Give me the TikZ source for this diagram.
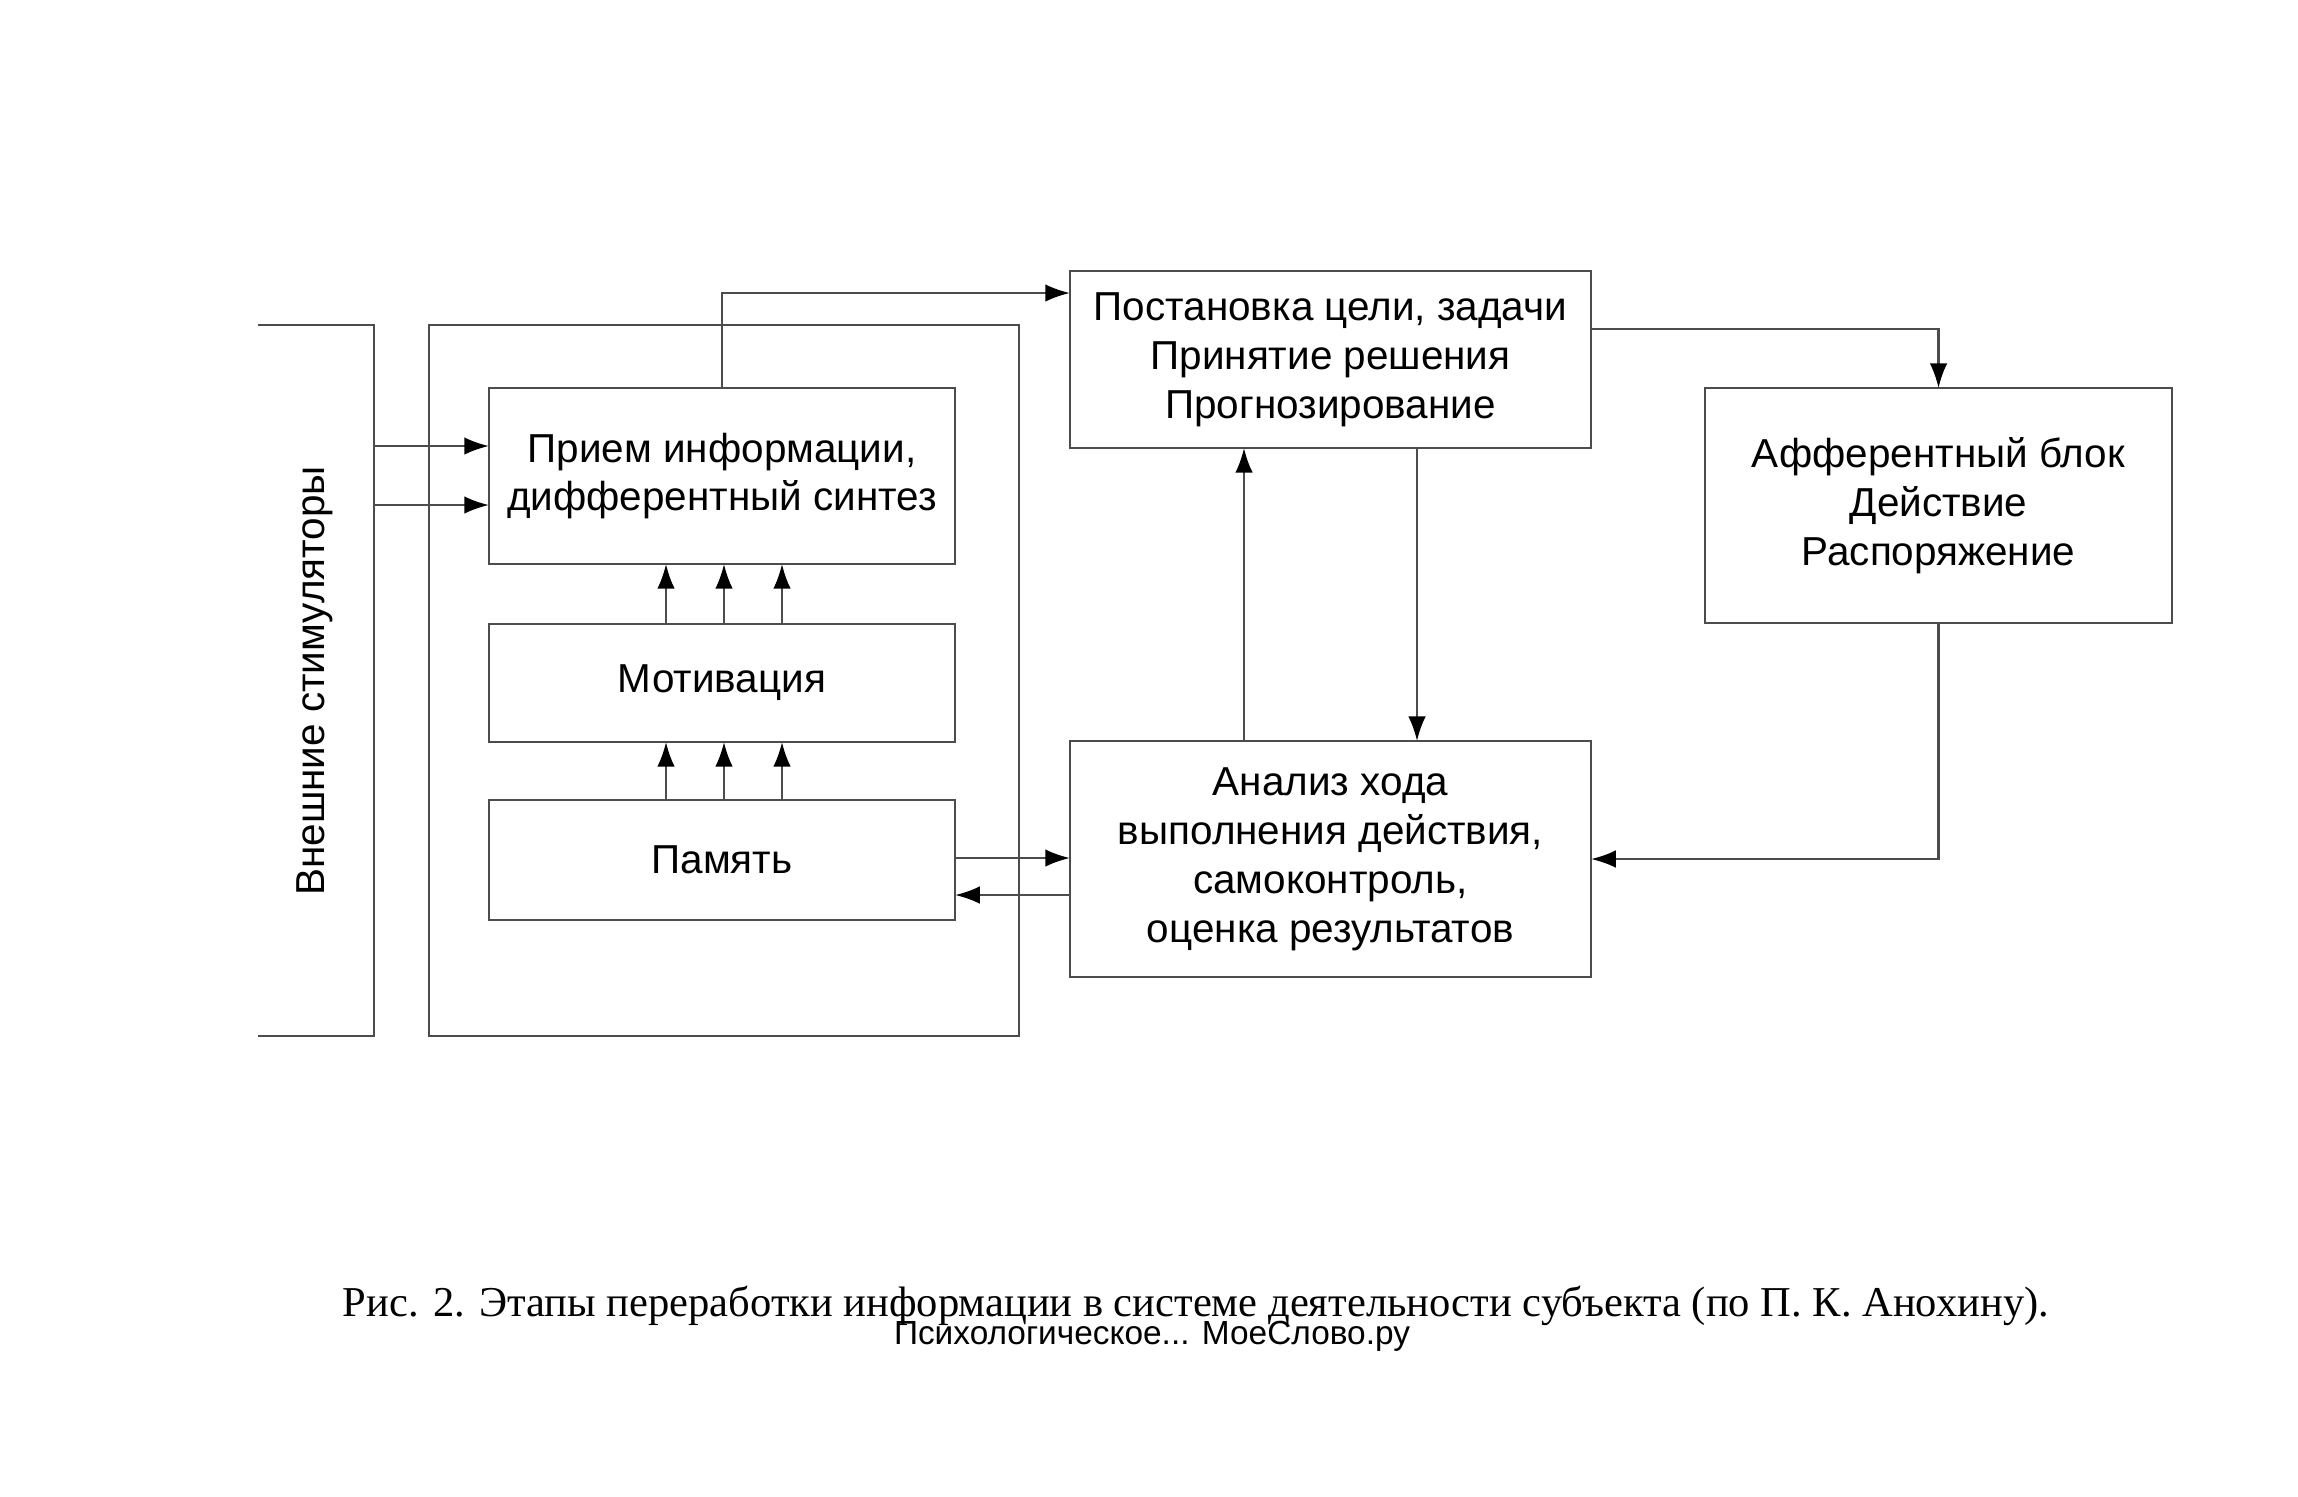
\documentclass[tikz,border=0pt]{standalone}
\usepackage{fontspec}
\setmainfont{Liberation Sans}
\newfontfamily\capfont{Liberation Serif}
\usetikzlibrary{arrows.meta,calc}
\begin{document}
\begin{tikzpicture}[x=0.01cm,y=-0.01cm,
  box/.style={draw=black!70, line width=0.7pt, inner sep=0pt, outer sep=0pt,
    align=center, font=\fontsize{11.5}{13.9}\selectfont},
  arr/.style={draw=black!70, line width=0.6pt, -{Latex[length=7pt,width=5pt,color=black]}},
  ln/.style={draw=black!70, line width=0.6pt}]
\fill[white] (0,0) rectangle (2298,1496);
\useasboundingbox (0,0) rectangle (2298,1496);
% bracket for external stimulators
\coordinate (bt0) at (258,325);
\coordinate (bt) at (374,325);
\coordinate (bb) at (374,1036);
\coordinate (bb0) at (258,1036);
\draw[ln, line width=0.7pt] (bt0) -- (bt) -- (bb) -- (bb0);
\node[font=\fontsize{11.5}{13.9}\selectfont, rotate=90] (stim) at (315,681) {Внешние стимуляторы};
% outer frame
\node[box, minimum width=5.90cm, minimum height=7.11cm] (outer) at (724,680.5) {};
% inner boxes
\node[box, minimum width=4.66cm, minimum height=1.76cm] (priem) at (722,476) {Прием информации,\\дифферентный синтез};
\node[box, minimum width=4.66cm, minimum height=1.18cm] (motiv) at (722,683) {Мотивация};
\node[box, minimum width=4.66cm, minimum height=1.20cm] (pam) at (722,860) {Память};
% right boxes
\node[box, minimum width=5.21cm, minimum height=1.77cm] (post) at (1330.5,359.5) {Постановка цели, задачи\\Принятие решения\\Прогнозирование};
\node[box, minimum width=4.67cm, minimum height=2.35cm] (aff) at (1938.5,505.5) {Афферентный блок\\Действие\\Распоряжение};
\node[box, minimum width=5.21cm, minimum height=2.36cm] (anal) at (1330.5,859) {Анализ хода\\выполнения действия,\\самоконтроль,\\оценка результатов};
% stimulus arrows
\coordinate (s1) at (374,446);
\coordinate (s2) at (374,505);
\draw[arr] (s1) -- (s1 -| priem.west);
\draw[arr] (s2) -- (s2 -| priem.west);
% vertical arrows between inner boxes
\foreach \xx in {666,724,782} {
  \coordinate (v) at (\xx,0);
  \draw[arr] (motiv.north -| v) -- (priem.south -| v);
  \draw[arr] (pam.north -| v) -- (motiv.south -| v);
}
% priem -> post
\coordinate (t1) at (724,293);
\draw[arr] (priem.north) |- (t1 -| post.west);
% post -> aff
\coordinate (t2) at (1591,329);
\draw[arr] (t2) -| (aff.north);
% aff -> anal
\draw[arr] (aff.south) |- (anal.east);
% anal <-> post
\coordinate (u) at (1244,0);
\coordinate (d) at (1417,0);
\draw[arr] (anal.north -| u) -- (post.south -| u);
\draw[arr] (post.south -| d) -- (anal.north -| d);
% pam <-> anal
\coordinate (p1) at (955,858);
\coordinate (p2) at (1070,895);
\draw[arr] (p1) -- (p1 -| anal.west);
\draw[arr] (p2) -- (p2 -| pam.east);
% caption
\node[font=\capfont\fontsize{12.1}{14}\selectfont] (cap) at (1196,1306) {Рис. 2. Этапы переработки информации в системе деятельности субъекта (по П. К. Анохину).};
\node[font=\fontsize{9.5}{11}\selectfont] (wm) at (1152,1336) {Психологическое... МоеСлово.ру};
\end{tikzpicture}
\end{document}
